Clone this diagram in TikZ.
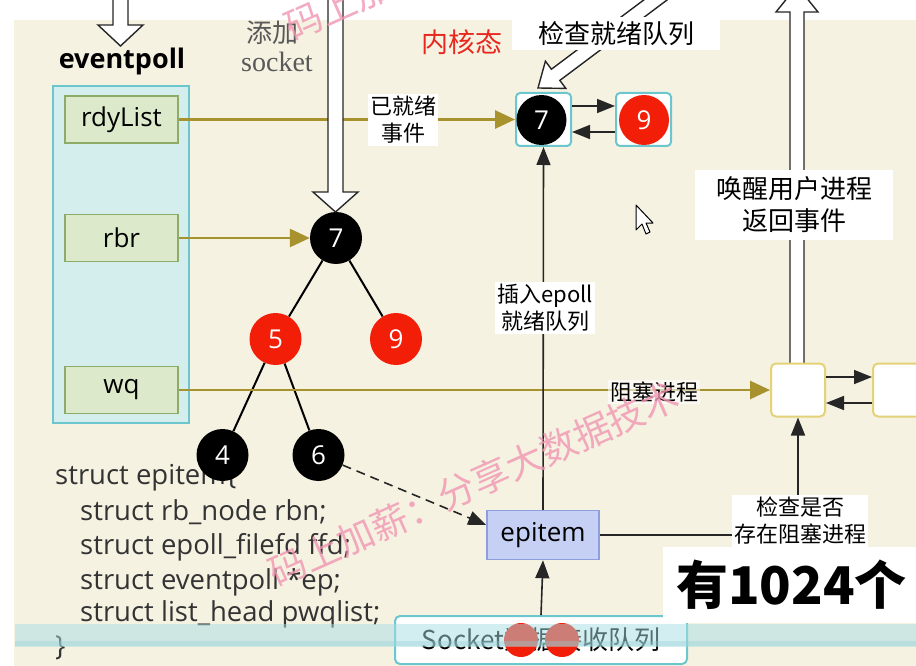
\documentclass[tikz,border=0pt]{standalone}
\usepackage{fontspec}
\setmainfont{Open Sans}
\newfontfamily\cjk{Noto Sans CJK SC}
\newfontfamily\songti{Liberation Serif}
\usetikzlibrary{arrows.meta}

\definecolor{bgbeige}{RGB}{246,242,226}
\definecolor{poolcyan}{RGB}{108,198,206}
\definecolor{poolfill}{RGB}{212,238,238}
\definecolor{fieldgreen}{RGB}{140,172,104}
\definecolor{fieldfill}{RGB}{220,233,202}
\definecolor{linkgold}{RGB}{168,146,46}
\definecolor{rbred}{RGB}{242,30,8}
\definecolor{itemblue}{RGB}{198,208,244}
\definecolor{itemedge}{RGB}{140,158,222}
\definecolor{procyellow}{RGB}{228,210,120}
\definecolor{markpink}{RGB}{240,150,178}
\definecolor{bandcyan}{RGB}{168,222,228}

\tikzset{
  field/.style={draw=fieldgreen, fill=fieldfill, line width=1.5pt, minimum width=113pt,
    minimum height=47pt, inner sep=0pt, font=\fontsize{26}{28}\selectfont},
  blknode/.style={circle, fill=black, text=white, minimum size=52pt, inner sep=0pt,
    font=\fontsize{26}{28}\selectfont},
  rednode/.style={blknode, fill=rbred},
  qslot/.style={draw=poolcyan, fill=white, line width=2pt, rounded corners=4pt,
    minimum width=55pt, minimum height=53pt},
  pslot/.style={draw=procyellow, fill=white, line width=2pt, rounded corners=5pt,
    minimum width=54pt, minimum height=53pt},
  tag/.style={fill=white, align=center, inner sep=2pt, font=\cjk\fontsize{22}{27}\selectfont},
  gold/.style={draw=linkgold, line width=2.8pt, -{Triangle[length=20pt,width=18pt]}},
  link/.style={draw=black!85, line width=1.6pt, -{Triangle[length=18pt,width=14pt]}},
  hollow/.style={draw=black!85, fill=white, line width=1.4pt},
  code/.style={anchor=west, inner sep=0pt, text=black!80, font=\fontsize{27.5}{30}\selectfont},
}

\begin{document}
\begin{tikzpicture}[x=1pt, y=-1pt]
    \useasboundingbox (0,0) rectangle (916,666);
    \clip (0,0) rectangle (916,666);

    %%%%%%%%%% Sfondo %%%%%%%%%%
    \fill[white] (0,0) rectangle (916,666);
    \fill[bgbeige] (14,20) rectangle (916,666);

    %%%%%%%%%% eventpoll %%%%%%%%%%
    \draw[hollow] (113,-5) -- (113,25) -- (98,25) -- (120.5,46) -- (143,25) -- (128,25) -- (128,-5);
    \node[font=\bfseries\fontsize{27}{30}\selectfont] (evtitle) at (122,61) {eventpoll};
    \node[draw=poolcyan, fill=poolfill, line width=2.5pt, minimum width=136pt,
          minimum height=337pt] (evpool) at (121,254.5) {};
    \node[field] (rdylist) at (121.5,119.5) {rdyList};
    \node[field] (rbr) at (121.5,238) {rbr};
    \node[field] (wq) at (121.5,390) {wq};

    %%%%%%%%%% struct epitem %%%%%%%%%%
    \node[code] (code1) at (55,478) {struct epitem\{};
    \node[code] (code2) at (80,512) {struct rb\_node rbn;};
    \node[code] (code3) at (80,547) {struct epoll\_filefd ffd;};
    \node[code] (code4) at (80,582) {struct eventpoll *ep;};
    \node[code] (code5) at (80,614) {struct list\_head pwqlist;};
    \node[code] (code6) at (55,648) {\}};

    %%%%%%%%%% Albero rosso-nero %%%%%%%%%%
    \node[blknode] (root) at (336,238) {7};
    \node[rednode] (tree5) at (275.5,339) {5};
    \node[rednode] (tree9) at (396,339) {9};
    \node[blknode] (tree4) at (222.5,455) {4};
    \node[blknode] (tree6) at (318.5,455) {6};
    \draw[line width=2pt] (root) -- (tree5);
    \draw[line width=2pt] (root) -- (tree9);
    \draw[line width=2pt] (tree5) -- (tree4);
    \draw[line width=2pt] (tree5) -- (tree6);

    %%%%%%%%%% Lista pronti %%%%%%%%%%
    \node[qslot] (rslot7) at (543.5,119.5) {};
    \node[blknode, minimum size=50pt] (ready7) at (541.5,120) {7};
    \node[qslot] (rslot9) at (643.5,119.5) {};
    \node[rednode, minimum size=50pt] (ready9) at (644,120) {9};
    \draw[link] ([yshift=13.5pt]rslot7.east) -- ([yshift=13.5pt]rslot9.west);
    \draw[link] ([yshift=-12.5pt]rslot9.west) -- ([yshift=-12.5pt]rslot7.east);

    %%%%%%%%%% Processi %%%%%%%%%%
    \draw[hollow] (790,380) -- (790,12) -- (776,12) -- (797,-14) -- (818,12) -- (804,12) -- (804,380);
    \node[pslot] (proc1) at (798,390) {};
    \node[pslot, minimum width=60pt] (proc2) at (903,390) {};
    \draw[link] ([yshift=13pt]proc1.east) -- ([yshift=13pt]proc2.west);
    \draw[link] ([yshift=-13pt]proc2.west) -- ([yshift=-13pt]proc1.east);

    %%%%%%%%%% epitem e socket %%%%%%%%%%
    \node[draw=itemedge, fill=itemblue, line width=1.5pt, minimum width=112pt,
          minimum height=49pt, font=\fontsize{26}{28}\selectfont] (epitem) at (543,535) {epitem};
    \node[draw=poolcyan, fill=white, line width=2pt, rounded corners=5pt, minimum width=292pt,
          minimum height=48pt, font=\cjk\fontsize{26}{28}\selectfont] (sockq) at (541,640) {Socket数据接收队列};

    %%%%%%%%%% Frecce %%%%%%%%%%
    \draw[gold] (rdylist.east) -- (rslot7.west);
    \draw[gold] (rbr.east) -- (root.west);
    \draw[gold] (wq.east) -- (proc1.west);
    \draw[link] (epitem.north) -- (rslot7.south);
    \draw[link] (sockq.north) -- (epitem.south);
    \draw[link] (epitem.east) -| (proc1.south);
    \draw[link, dash pattern=on 9pt off 6pt] (tree6) -- (epitem.170);
    \draw[hollow] (328,-5) -- (328,192) -- (313,192) -- (335.5,212) -- (358,192) -- (343,192) -- (343,-5);
    \draw[hollow] (671.8,-3.6) -- (559.8,80.4) -- (565.8,88.4) -- (538,88) -- (545.4,61.2)
        -- (551.4,69.2) -- (663.4,-14.8);

    %%%%%%%%%% Testo %%%%%%%%%%
    \node[text=black!65, font=\cjk\fontsize{26}{28}\selectfont] (addlbl) at (272,33) {添加};
    \node[text=black!65, font=\songti\fontsize{28}{30}\selectfont] (socklbl) at (277,62) {socket};
    \node[text={rgb,255:red,232;green,40;blue,30}, font=\cjk\fontsize{27}{30}\selectfont] (kernlbl) at (462,42) {内核态};
    \node[tag, font=\cjk\fontsize{26}{28}\selectfont, minimum width=208pt, minimum height=33pt] (checkrdy) at (616,33.5) {检查就绪队列};
    \node[tag] (readylbl) at (403,120) {已就绪\\事件};
    \node[tag] (insertlbl) at (545,308) {插入epoll\\就绪队列};
    \node[tag, font=\cjk\fontsize{26}{32}\selectfont, minimum width=198pt, minimum height=70pt] (wakelbl) at (794,205) {唤醒用户进程\\返回事件};
    \node[tag, fill opacity=0.6, text opacity=1] (blocklbl) at (654,392) {阻塞进程};
    \node[tag] (checklbl) at (800,521) {检查是否\\存在阻塞进程};

    %%%%%%%%%% Cursore %%%%%%%%%%
    \draw[fill=white, line width=1pt, line join=round] (636,205) -- (636,230) -- (642,224)
        -- (646,234) -- (650,232) -- (646,223) -- (653,223) -- cycle;

    %%%%%%%%%% Sovrapposizioni %%%%%%%%%%
    \node[rotate=24, text=markpink, text opacity=0.8, font=\cjk\fontsize{37}{40}\selectfont] (mark1) at (474,484) {码上加薪：分享大数据技术};
    \node[rotate=24, text=markpink, text opacity=0.8, font=\cjk\fontsize{37}{40}\selectfont] (mark2) at (490,-62) {码上加薪：分享大数据技术};
    \fill[rbred] (521,640) circle (17);
    \fill[rbred] (562,640) circle (17);
    \fill[bandcyan, opacity=0.5] (15,624) -- (916,624) -- (916,647) -- (15,647) -- cycle;
    \draw[bandcyan!85!teal, opacity=0.35, line width=5pt] (15,643) -- (916,643);
    \fill[white] (663,547) rectangle (916,623);
    \node[anchor=west, inner sep=0pt, font=\cjk\bfseries\fontsize{52}{56}\selectfont] (subline) at (676,585) {有1024个};
\end{tikzpicture}
\end{document}
